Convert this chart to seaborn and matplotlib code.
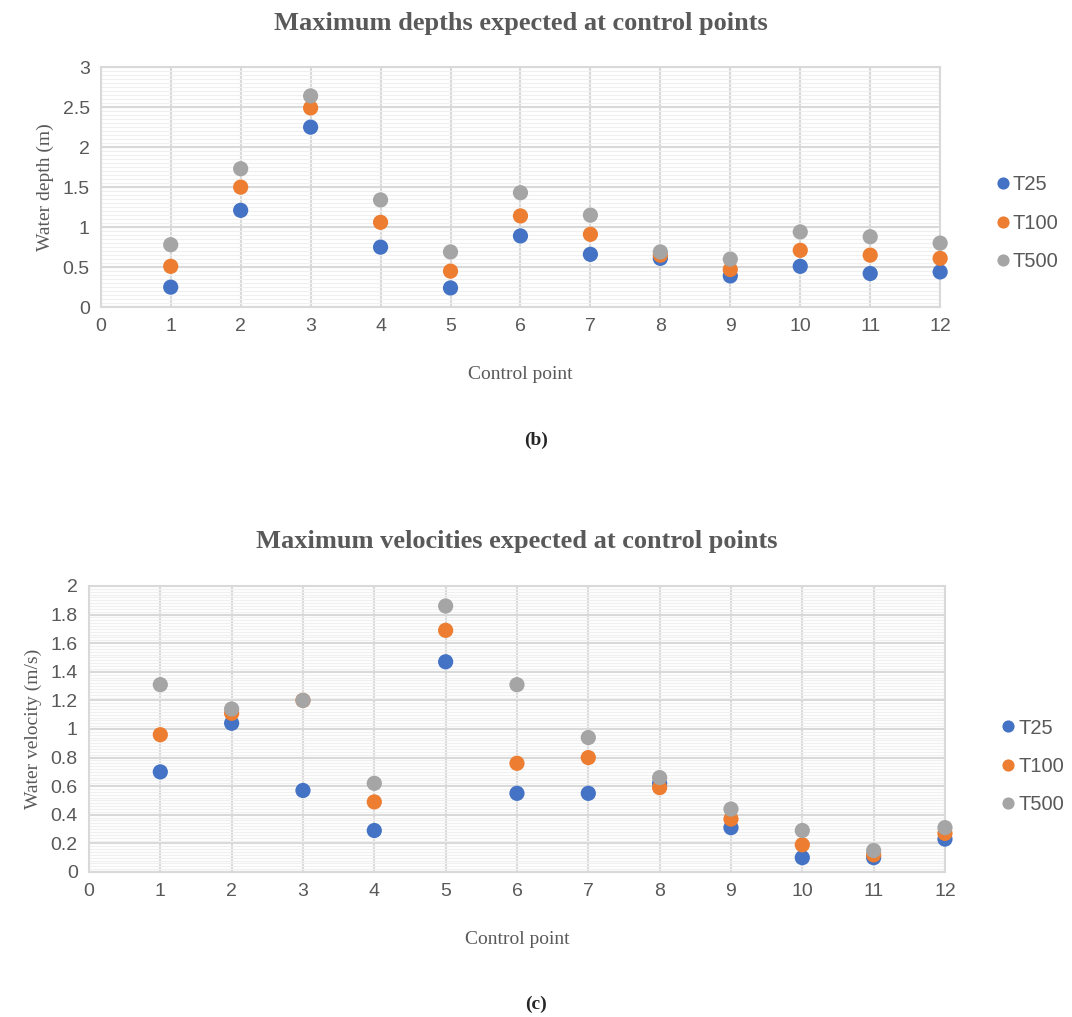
import numpy as np
import pandas as pd
import seaborn as sns
import matplotlib.pyplot as plt
from matplotlib.ticker import MultipleLocator

# Data
control_points = [1, 2, 3, 4, 5, 6, 7, 8, 9, 10, 11, 12]
series_names = ["T25", "T100", "T500"]

depth_t25 = [0.25, 1.21, 2.25, 0.75, 0.24, 0.89, 0.66, 0.61, 0.39, 0.51, 0.42, 0.44]
depth_t100 = [0.51, 1.50, 2.49, 1.06, 0.45, 1.14, 0.91, 0.65, 0.47, 0.71, 0.65, 0.61]
depth_t500 = [0.78, 1.73, 2.64, 1.34, 0.69, 1.43, 1.15, 0.69, 0.60, 0.94, 0.88, 0.80]

vel_t25 = [0.70, 1.04, 0.57, 0.29, 1.47, 0.55, 0.55, 0.62, 0.31, 0.10, 0.10, 0.23]
vel_t100 = [0.96, 1.11, 1.20, 0.49, 1.69, 0.76, 0.80, 0.59, 0.37, 0.19, 0.12, 0.27]
vel_t500 = [1.31, 1.14, 1.20, 0.62, 1.86, 1.31, 0.94, 0.66, 0.44, 0.29, 0.15, 0.31]

colors = ["#4472C4", "#ED7D31", "#A5A5A5"]
text_gray = "#595959"
serif = "Liberation Serif"
sans = "Liberation Sans"


def long_frame(values):
    rows = []
    for name, vals in zip(series_names, values):
        for x, v in zip(control_points, vals):
            rows.append({"Control point": x, "value": v, "series": name})
    return pd.DataFrame(rows)


def draw_panel(ax, df, title, ylabel, ymax, major, minor, label, label_y, legend_y):
    sns.scatterplot(data=df, x="Control point", y="value", hue="series",
                    palette=colors, s=120, linewidth=0, ax=ax, zorder=3,
                    clip_on=False)
    ax.set_xlim(0, 12)
    ax.set_ylim(0, ymax)
    ax.xaxis.set_major_locator(MultipleLocator(1))
    ax.yaxis.set_major_locator(MultipleLocator(major))
    ax.yaxis.set_minor_locator(MultipleLocator(minor))
    ax.yaxis.set_major_formatter(plt.FuncFormatter(lambda v, p: f"{v:g}"))
    ax.grid(which="major", color="#D9D9D9", linewidth=1.5)
    ax.grid(which="minor", axis="y", color="#F0F0F0", linewidth=0.9)
    ax.set_axisbelow(True)
    for sp in ax.spines.values():
        sp.set_color("#D9D9D9")
        sp.set_linewidth(1.5)
    ax.tick_params(which="both", length=0, labelsize=14, colors=text_gray, pad=8)
    for t in ax.get_xticklabels() + ax.get_yticklabels():
        t.set_family(sans)
    ax.set_title(title, fontsize=19, fontweight="bold", color=text_gray,
                 family=serif, pad=27)
    ax.set_xlabel("Control point", fontsize=14, color=text_gray, family=serif,
                  labelpad=22)
    ax.set_ylabel(ylabel, fontsize=14, color=text_gray, family=serif, labelpad=6)
    leg = ax.legend(loc="center left", bbox_to_anchor=(1.041, legend_y),
                    frameon=False, handlelength=1.0, handletextpad=0.0,
                    labelspacing=0.95, markerscale=0.8,
                    prop={"family": sans, "size": 14.5})
    for t in leg.get_texts():
        t.set_color(text_gray)
    ax.figure.text(0.5, label_y, label, ha="center", va="center",
                   fontsize=14, fontweight="bold", family=serif)


sns.set_style("white")
fig = plt.figure(figsize=(10.72, 10.17), dpi=100)
ax1 = fig.add_axes([0.094, 0.698, 0.783, 0.236])
ax2 = fig.add_axes([0.083, 0.1426, 0.7985, 0.2812])

draw_panel(ax1, long_frame([depth_t25, depth_t100, depth_t500]),
           "Maximum depths expected at control points", "Water depth (m)",
           3, 0.5, 0.05, "(b)", 0.567, 0.35)
draw_panel(ax2, long_frame([vel_t25, vel_t100, vel_t500]),
           "Maximum velocities expected at control points", "Water velocity (m/s)",
           2, 0.2, 0.02, "(c)", 0.012, 0.37)

fig.savefig("out.png", dpi=100)
